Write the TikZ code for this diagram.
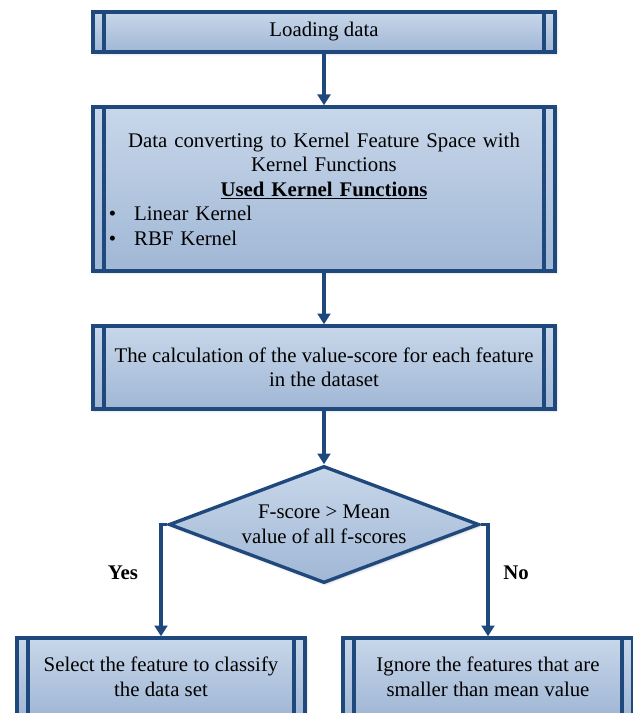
\documentclass[tikz,border=0pt]{standalone}
\usepackage{fontspec}
\setmainfont{Liberation Serif}
\usetikzlibrary{shapes.geometric, arrows.meta, shadows.blur}
\definecolor{flowline}{RGB}{31,73,125}
\definecolor{flowtop}{RGB}{200,215,234}
\definecolor{flowbot}{RGB}{160,183,213}

\begin{document}
\begin{tikzpicture}[x=0.025cm, y=-0.025cm,
			every node/.style={font=\fontsize{14.8}{17.4}\selectfont},
			procbox/.style={draw=flowline, line width=2.4pt, top color=flowtop, bottom color=flowbot, inner sep=0pt, align=center,
				blur shadow={shadow xshift=1pt, shadow yshift=-1pt, shadow blur steps=4, shadow opacity=25},
				path picture={
					\draw[flowline, line width=2.4pt] ([xshift=0.28cm]path picture bounding box.north west) -- ([xshift=0.28cm]path picture bounding box.south west);
					\draw[flowline, line width=2.4pt] ([xshift=-0.28cm]path picture bounding box.north east) -- ([xshift=-0.28cm]path picture bounding box.south east);}},
			decision/.style={diamond, aspect=2.65, draw=flowline, line width=2.4pt, top color=flowtop, bottom color=flowbot, minimum width=7.75cm, minimum height=2.925cm, inner sep=0pt, align=center,
				blur shadow={shadow xshift=1pt, shadow yshift=-1pt, shadow blur steps=4, shadow opacity=25}},
			flow/.style={draw=flowline, line width=2.4pt, -{Triangle[width=0.32cm,length=0.27cm]}},
			answer/.style={font=\fontsize{14.8}{17.4}\selectfont\bfseries}]
			\useasboundingbox (0,0) rectangle (633,713);
			\clip (0,0) rectangle (633,713);
			
			\node[procbox, minimum width=11.55cm, minimum height=1cm] (load) at (324,32) {Loading data};
			\node[procbox, minimum width=11.55cm, minimum height=4.1cm, text width=10.95cm, align=left] (convert) at (324,189) {{\centering Data converting to Kernel Feature Space with\\ Kernel Functions\\ \textbf{\underline{Used Kernel Functions}}\par}
				\hspace*{0.1cm}\textbullet\hspace{0.45cm}Linear Kernel\\
				\hspace*{0.1cm}\textbullet\hspace{0.45cm}RBF Kernel};
			\node[procbox, minimum width=11.55cm, minimum height=2.075cm] (calc) at (324,367.5) {The calculation of the value-score for each feature\\ in the dataset};
			\node[decision] (test) at (324,524.5) {F-score > Mean\\ value of all f-scores};
			\node[procbox, minimum width=7.2cm, minimum height=1.95cm] (select) at (161,677) {Select the feature to classify\\ the data set};
			\node[procbox, minimum width=7.25cm, minimum height=1.95cm] (ignore) at (488,677) {Ignore the features that are\\ smaller than mean value};
			
			\draw[flow] (load) -- (convert);
			\draw[flow] (convert) -- (calc);
			\draw[flow] (calc) -- (test);
			\draw[flow] (test.west) -| (select.north);
			\draw[flow] (test.east) -| (ignore.north);
			
			\node[answer] (yes) at (123,573) {Yes};
			\node[answer] (no) at (516,573) {No};
		\end{tikzpicture}
\end{document}
